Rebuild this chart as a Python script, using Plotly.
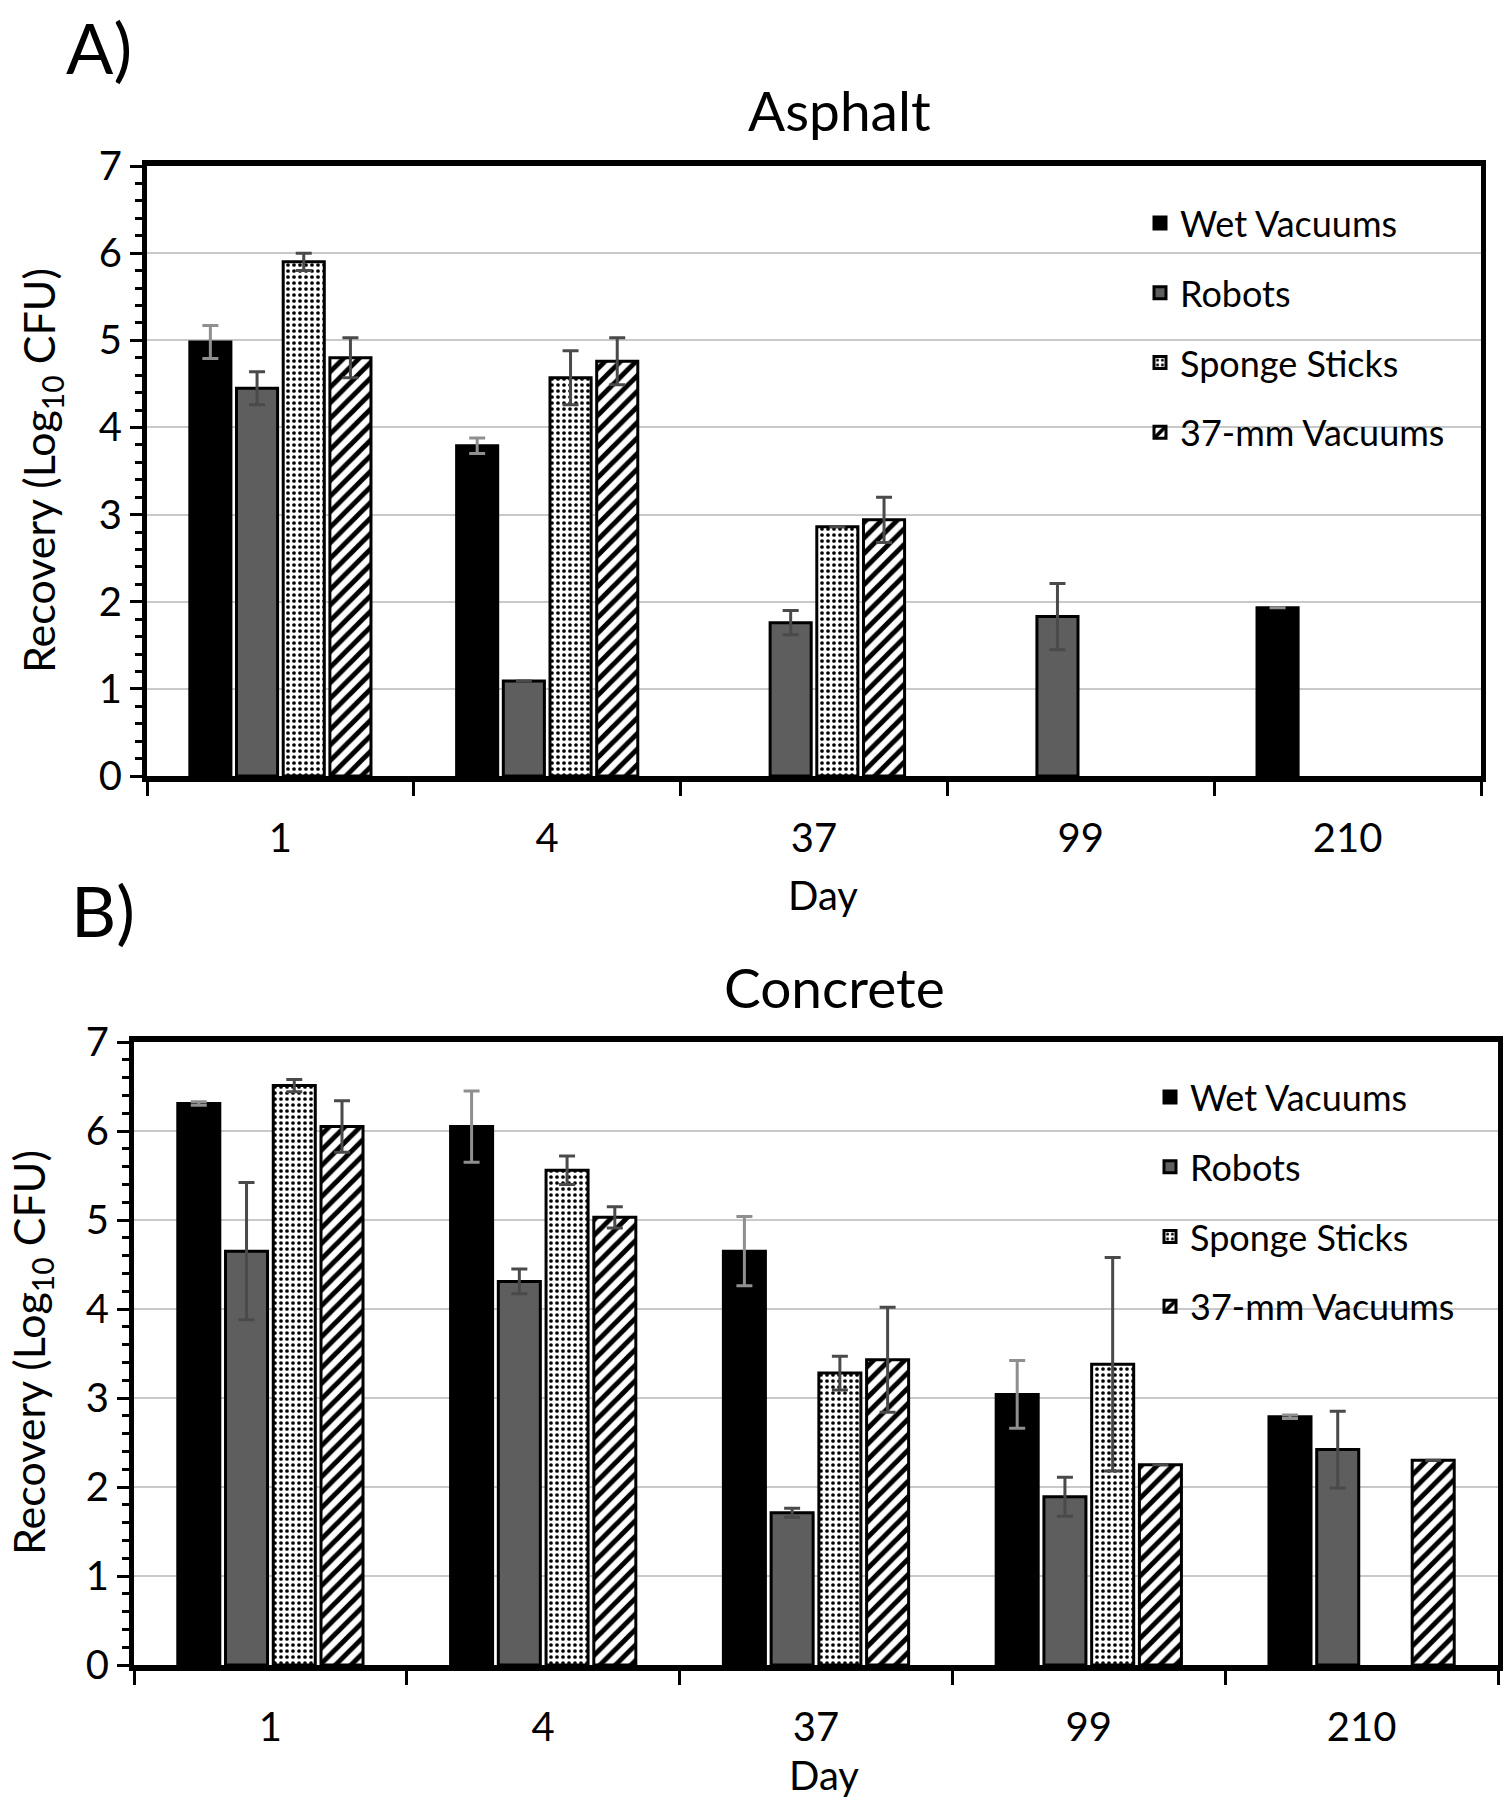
import plotly.graph_objects as go

# ---------------- data ----------------
days = ["1", "4", "37", "99", "210"]
series_names = ["Wet Vacuums", "Robots", "Sponge Sticks", "37-mm Vacuums"]

asphalt_wet = [4.98, 3.79, None, None, 1.93]
asphalt_wet_err = [0.19, 0.09, None, None, None]
asphalt_robots = [4.45, 1.09, 1.76, 1.83, None]
asphalt_robots_err = [0.19, None, 0.14, 0.38, None]
asphalt_sponge = [5.90, 4.57, 2.86, None, None]
asphalt_sponge_err = [0.10, 0.31, None, None, None]
asphalt_vac37 = [4.80, 4.76, 2.94, None, None]
asphalt_vac37_err = [0.23, 0.27, 0.26, None, None]

concrete_wet = [6.31, 6.05, 4.65, 3.04, 2.79]
concrete_wet_err = [0.02, 0.40, 0.39, 0.38, 0.02]
concrete_robots = [4.65, 4.31, 1.71, 1.89, 2.42]
concrete_robots_err = [0.77, 0.14, 0.05, 0.22, 0.43]
concrete_sponge = [6.51, 5.56, 3.28, 3.38, None]
concrete_sponge_err = [0.07, 0.16, 0.19, 1.20, None]
concrete_vac37 = [6.05, 5.03, 3.43, 2.25, 2.30]
concrete_vac37_err = [0.29, 0.12, 0.59, None, None]

# ---------------- styles ----------------
FONT = "Lato, 'Open Sans', sans-serif"
W, H = 1506, 1800

styles = {
    "Wet Vacuums": dict(color="black", pattern=None, err="#8f8f8f"),
    "Robots": dict(color="#5e5e5e", pattern=None, err="#4a4a4a"),
    "Sponge Sticks": dict(color="white",
                          pattern=dict(shape=".", fgcolor="black", bgcolor="white",
                                       size=6, solidity=0.3, fillmode="replace"),
                          err="#4a4a4a"),
    "37-mm Vacuums": dict(color="white",
                          pattern=dict(shape="/", fgcolor="black", bgcolor="white",
                                       size=11, solidity=0.45, fillmode="replace"),
                          err="#4a4a4a"),
}

panels = [
    dict(vals=[asphalt_wet, asphalt_robots, asphalt_sponge, asphalt_vac37],
         errs=[asphalt_wet_err, asphalt_robots_err, asphalt_sponge_err, asphalt_vac37_err],
         xa="x", ya="y", legend="legend"),
    dict(vals=[concrete_wet, concrete_robots, concrete_sponge, concrete_vac37],
         errs=[concrete_wet_err, concrete_robots_err, concrete_sponge_err, concrete_vac37_err],
         xa="x2", ya="y2", legend="legend2"),
]

fig = go.Figure()
for p_i, p in enumerate(panels):
    for name, v, e in zip(series_names, p["vals"], p["errs"]):
        st = styles[name]
        marker = dict(color=st["color"], line=dict(color="black", width=3))
        if st["pattern"]:
            marker["pattern"] = st["pattern"]
        fig.add_trace(go.Bar(
            x=days, y=v, name=name, xaxis=p["xa"], yaxis=p["ya"],
            legend=p["legend"], legendgroup=f"{p_i}-{name}",
            marker=marker,
            error_y=dict(type="data", array=e, visible=True, color=st["err"],
                         thickness=3, width=8),
        ))

def px_to_paper_x(px):
    return px / W

def px_to_paper_y(py):
    return 1 - py / H

# plot areas in pixel coords
top_box = dict(l=147, r=1481, t=166, b=776)
bot_box = dict(l=134, r=1498, t=1042, b=1665)

def yaxis_cfg(box):
    return dict(
        domain=[px_to_paper_y(box["b"]), px_to_paper_y(box["t"])],
        range=[0, 7], dtick=1, tick0=0,
        showgrid=True, gridcolor="#c9c9c9", gridwidth=2,
        showline=True, linecolor="black", linewidth=5, mirror=True,
        ticks="outside", ticklen=12, tickwidth=3, tickcolor="black",
        minor=dict(dtick=0.2, ticks="outside", ticklen=7, tickwidth=3,
                   tickcolor="black", showgrid=False),
        tickfont=dict(family=FONT, size=40, color="black"),
        zeroline=False, fixedrange=True, automargin=False,
    )

def xaxis_cfg(box, anchor):
    return dict(
        domain=[px_to_paper_x(box["l"]), px_to_paper_x(box["r"])],
        anchor=anchor, type="category",
        showgrid=False, showline=True, linecolor="black", linewidth=6, mirror=True,
        ticks="outside", tickson="boundaries", ticklen=14, tickwidth=3,
        tickcolor="black",
        tickfont=dict(family=FONT, size=40, color="black"),
        ticklabelstandoff=22, automargin=False, fixedrange=True,
    )

legend_common = dict(xanchor="left", yanchor="top", bgcolor="rgba(0,0,0,0)",
                     font=dict(family=FONT, size=36, color="black"),
                     tracegroupgap=20, traceorder="grouped", itemwidth=30)

fig.update_layout(
    width=W, height=H,
    margin=dict(l=0, r=0, t=0, b=0, pad=0, autoexpand=False),
    paper_bgcolor="white", plot_bgcolor="white",
    barmode="group", bargap=0.3, bargroupgap=0.12,
    font=dict(family=FONT, color="black"),
    xaxis=xaxis_cfg(top_box, "y"),
    yaxis=yaxis_cfg(top_box),
    xaxis2=xaxis_cfg(bot_box, "y2"),
    yaxis2=dict(yaxis_cfg(bot_box), anchor="x2"),
    legend=dict(legend_common, x=px_to_paper_x(1140), y=px_to_paper_y(193)),
    legend2=dict(legend_common, x=px_to_paper_x(1150), y=px_to_paper_y(1067)),
    showlegend=True,
)

ann_font = dict(family=FONT, color="black")
annotations = [
    dict(text="A)", x=px_to_paper_x(64), y=px_to_paper_y(47), xanchor="left", yanchor="middle",
         font=dict(ann_font, size=70)),
    dict(text="B)", x=px_to_paper_x(69), y=px_to_paper_y(910), xanchor="left", yanchor="middle",
         font=dict(ann_font, size=70)),
    dict(text="Asphalt", x=px_to_paper_x(840), y=px_to_paper_y(110), xanchor="center", yanchor="middle",
         font=dict(ann_font, size=55)),
    dict(text="Concrete", x=px_to_paper_x(835), y=px_to_paper_y(987), xanchor="center", yanchor="middle",
         font=dict(ann_font, size=55)),
    dict(text="Day", x=px_to_paper_x(823), y=px_to_paper_y(895), xanchor="center", yanchor="middle",
         font=dict(ann_font, size=40)),
    dict(text="Day", x=px_to_paper_x(824), y=px_to_paper_y(1775), xanchor="center", yanchor="middle",
         font=dict(ann_font, size=40)),
    dict(text="Recovery (Log<sub>10</sub> CFU)", x=px_to_paper_x(41), y=px_to_paper_y(471),
         xanchor="center", yanchor="middle", textangle=-90, font=dict(ann_font, size=43)),
    dict(text="Recovery (Log<sub>10</sub> CFU)", x=px_to_paper_x(31), y=px_to_paper_y(1353),
         xanchor="center", yanchor="middle", textangle=-90, font=dict(ann_font, size=43)),
]
for a in annotations:
    a.update(xref="paper", yref="paper", showarrow=False)
fig.update_layout(annotations=annotations)

# remove the default page margin so the figure sits at the window's top-left corner
fig.write_html("out.html",
               config={"displayModeBar": False},
               post_script="document.body.style.margin='0';document.body.style.padding='0';")
